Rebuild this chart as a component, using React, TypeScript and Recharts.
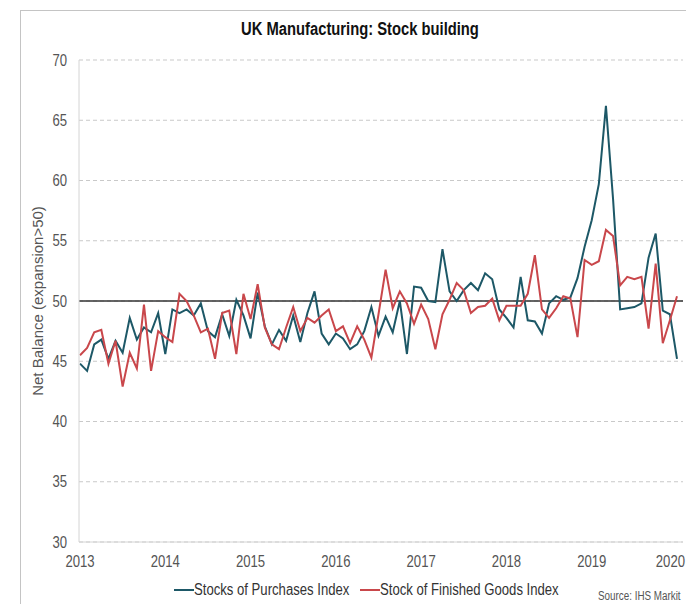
import { LineChart, Line, XAxis, YAxis, CartesianGrid, ReferenceLine } from 'recharts'

const FONT = '"Liberation Sans", Arial, sans-serif'
// the source uses a narrow face; squeeze the regular one
const NARROW = 0.82

const YEARS = ['2013', '2014', '2015', '2016', '2017', '2018', '2019', '2020']
const Y_TICKS = [30, 35, 40, 45, 50, 55, 60, 65, 70]

// monthly, Jan 2013 .. Jan 2020
const PURCHASES = [
  44.8, 44.2, 46.4, 46.8, 45.2, 46.7, 45.7, 48.6, 46.8, 47.8, 47.4, 49.0,
  45.6, 49.3, 49.0, 49.3, 48.8, 49.8, 47.5, 47.0, 48.9, 47.1, 50.1, 48.8,
  46.9, 50.7, 47.9, 46.4, 47.6, 46.7, 48.8, 46.6, 49.0, 50.8, 47.3, 46.4,
  47.3, 46.9, 46.0, 46.4, 47.5, 49.5, 47.1, 48.7, 47.4, 50.0, 45.6, 51.2,
  51.1, 50.0, 49.9, 54.3, 50.8, 50.0, 50.9, 51.5, 50.9, 52.3, 51.8, 49.3,
  48.6, 47.8, 52.0, 48.4, 48.3, 47.3, 49.8, 50.4, 50.1, 50.3, 51.9, 54.5,
  56.7, 59.7, 66.2, 58.5, 49.3, 49.4, 49.5, 49.8, 53.6, 55.6, 49.2, 48.9,
  45.2,
]

const FINISHED = [
  45.5, 46.1, 47.4, 47.6, 44.8, 46.7, 42.9, 45.7, 44.4, 49.7, 44.2, 47.5,
  47.0, 46.6, 50.6, 50.0, 48.8, 47.4, 47.7, 45.2, 49.0, 49.2, 45.6, 50.6,
  48.5, 51.4, 47.8, 46.4, 46.0, 47.8, 49.5, 47.5, 48.6, 48.2, 48.8, 49.3,
  47.5, 47.9, 46.5, 47.9, 46.8, 45.3, 48.9, 52.6, 49.4, 50.8, 49.8, 48.1,
  49.7, 48.5, 46.0, 48.9, 50.1, 51.5, 50.9, 49.0, 49.5, 49.6, 50.2, 48.4,
  49.6, 49.6, 49.6, 50.6, 53.8, 49.3, 48.6, 49.4, 50.4, 50.2, 47.0, 53.4,
  53.0, 53.3, 55.9, 55.4, 51.3, 52.0, 51.8, 52.0, 47.7, 53.1, 46.5, 48.4,
  50.4,
]

const TEAL = '#1d5867'
const RED = '#c9474b'
const LAST_MONTH = PURCHASES.length - 1

const data = PURCHASES.map((v, i) => ({ month: i, purchases: v, finished: FINISHED[i] }))
const xTicks = YEARS.map((_, i) => i * 12)

const narrowText = {
  display: 'inline-block',
  transform: `scaleX(${NARROW})`,
  whiteSpace: 'nowrap' as const,
}

function YearTick(props: any) {
  const { x, y, payload } = props
  const isLast = payload.value === LAST_MONTH
  return (
    <g transform={`translate(${isLast ? 685 : x},${y})`}>
      <text
        transform={`scale(${NARROW},1)`}
        textAnchor={isLast ? 'end' : 'middle'}
        dy="0.71em"
        fontSize={16}
        fill="#555"
        fontFamily={FONT}
      >
        {YEARS[payload.value / 12]}
      </text>
    </g>
  )
}

function ValueTick(props: any) {
  const { x, y, payload } = props
  return (
    <g transform={`translate(${x},${y})`}>
      <text
        transform={`scale(${NARROW},1)`}
        textAnchor="end"
        dy="0.355em"
        fontSize={16}
        fill="#555"
        fontFamily={FONT}
      >
        {payload.value}
      </text>
    </g>
  )
}

export default function App() {
  return (
    <div
      style={{
        position: 'absolute',
        left: 0,
        top: 0,
        width: 686,
        height: 604,
        overflow: 'hidden',
        background: '#fff',
        fontFamily: FONT,
      }}
    >
      {/* outer frame, cropped on the right and bottom like the source */}
      <div
        style={{
          position: 'absolute',
          left: 20,
          top: 10,
          width: 800,
          height: 800,
          border: '1px solid #c4c4c4',
        }}
      />
      <div
        style={{
          position: 'absolute',
          left: 0,
          top: 19,
          width: 720,
          textAlign: 'center',
          fontSize: 18,
          fontWeight: 'bold',
          color: '#111',
        }}
      >
        <span style={narrowText}>UK Manufacturing: Stock building</span>
      </div>
      <div
        style={{
          position: 'absolute',
          left: 37,
          top: 301,
          transform: 'translate(-50%, -50%) rotate(-90deg)',
          whiteSpace: 'nowrap',
          fontSize: 15,
          color: '#555',
        }}
      >
        Net Balance (expansion&gt;50)
      </div>

      <div style={{ position: 'absolute', left: 0, top: 0 }}>
        <LineChart width={720} height={620} data={data} margin={{ top: 60, right: 37, left: 0, bottom: 0 }}>
          <CartesianGrid vertical={false} stroke="#c9c9c9" strokeDasharray="4 3" />
          <XAxis
            type="number"
            dataKey="month"
            domain={[0, LAST_MONTH]}
            ticks={xTicks}
            interval={0}
            padding={{ left: 1, right: 6 }}
            height={78}
            tickLine={false}
            tickMargin={8}
            axisLine={{ stroke: '#d4d4d4' }}
            tick={<YearTick />}
          />
          <YAxis
            domain={[30, 70]}
            ticks={Y_TICKS}
            interval={0}
            width={79}
            tickLine={false}
            tickMargin={6}
            axisLine={{ stroke: '#d4d4d4' }}
            tick={<ValueTick />}
          />
          <ReferenceLine y={50} stroke="#333" strokeWidth={1.5} />
          <Line
            type="linear"
            dataKey="purchases"
            stroke={TEAL}
            strokeWidth={2}
            dot={false}
            isAnimationActive={false}
          />
          <Line
            type="linear"
            dataKey="finished"
            stroke={RED}
            strokeWidth={2}
            dot={false}
            isAnimationActive={false}
          />
        </LineChart>
      </div>

      <div
        style={{
          position: 'absolute',
          left: 174,
          top: 581,
          display: 'flex',
          alignItems: 'center',
          fontSize: 16,
          color: '#333',
          whiteSpace: 'nowrap',
        }}
      >
        <span style={{ display: 'inline-block', width: 20, height: 2, background: TEAL }} />
        <span style={{ width: 154 }}>
          <span style={{ ...narrowText, transformOrigin: 'left center' }}>Stocks of Purchases Index</span>
        </span>
        <span style={{ display: 'inline-block', width: 20, height: 2, background: RED, marginLeft: 12 }} />
        <span style={{ width: 165 }}>
          <span style={{ ...narrowText, transformOrigin: 'left center' }}>Stock of Finished Goods Index</span>
        </span>
      </div>
      <div
        style={{
          position: 'absolute',
          left: 598,
          top: 589,
          fontSize: 12,
          color: '#555',
        }}
      >
        <span style={{ ...narrowText, transformOrigin: 'left center' }}>Source: IHS Markit</span>
      </div>
    </div>
  )
}
